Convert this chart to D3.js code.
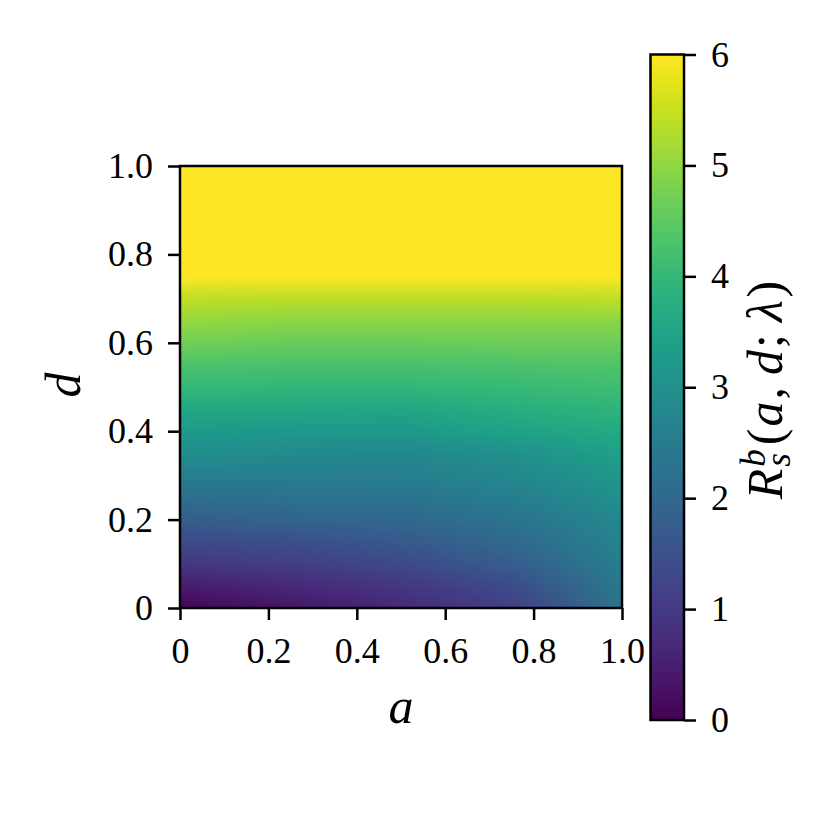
<!DOCTYPE html>
<html>
<head>
<meta charset="utf-8">
<script src="https://cdn.jsdelivr.net/npm/d3@7"></script>
<style>
  body { margin: 0; background: #fff; }
  svg { display: block; }
  text { font-family: "Liberation Serif", "DejaVu Serif", serif; fill: #000; }
</style>
</head>
<body>
<svg id="chart" width="830" height="830"></svg>
<script>
// grid of a (columns) and d (rows), values of R
var aGrid = [0, 0.25, 0.5, 0.75, 1];
var dGrid = [0, 0.05, 0.1, 0.15, 0.2, 0.25, 0.3, 0.35, 0.4, 0.45, 0.5,
             0.55, 0.6, 0.65, 0.7, 0.75, 0.8, 0.85, 0.9, 0.95, 1];
// one array per a column, listed bottom (d=0) to top (d=1)
var rA000 = [0.05, 0.45, 0.95, 1.35, 1.75, 2.15, 2.55, 2.95, 3.25, 3.6, 4.0, 4.3, 4.7, 5.05, 5.4, 6, 6, 6, 6, 6, 6];
var rA025 = [0.35, 0.7, 1.1, 1.45, 1.9, 2.25, 2.55, 2.85, 3.2, 3.6, 3.95, 4.25, 4.6, 4.95, 5.35, 6, 6, 6, 6, 6, 6];
var rA050 = [0.7, 0.95, 1.35, 1.65, 2.0, 2.3, 2.55, 2.8, 3.2, 3.55, 3.95, 4.25, 4.6, 4.95, 5.35, 6, 6, 6, 6, 6, 6];
var rA075 = [1.15, 1.4, 1.75, 2.05, 2.3, 2.55, 2.8, 3.0, 3.45, 3.75, 4.05, 4.3, 4.65, 4.95, 5.35, 6, 6, 6, 6, 6, 6];
var rA100 = [2.35, 2.45, 2.6, 2.7, 2.8, 3.0, 3.2, 3.4, 3.65, 3.9, 4.15, 4.35, 4.65, 4.95, 5.4, 6, 6, 6, 6, 6, 6];

var xTicks = [0, 0.2, 0.4, 0.6, 0.8, 1];
var xTickLabels = ["0", "0.2", "0.4", "0.6", "0.8", "1.0"];
var yTicks = [0, 0.2, 0.4, 0.6, 0.8, 1];
var yTickLabels = ["0", "0.2", "0.4", "0.6", "0.8", "1.0"];
var cbTicks = [0, 1, 2, 3, 4, 5, 6];

var columns = [rA000, rA025, rA050, rA075, rA100];
var FONT = '"Liberation Serif", "DejaVu Serif", serif';

var svg = d3.select("#chart");
var x = d3.scaleLinear().domain([0, 1]).range([180, 622]);
var y = d3.scaleLinear().domain([0, 1]).range([608, 166]);
var color = d3.scaleSequential(d3.interpolateViridis).domain([0, 6]).clamp(true);

// heatmap: one pixel per grid cell, smoothed when scaled up
var nA = aGrid.length, nD = dGrid.length;
var cnv = document.createElement("canvas");
cnv.width = nA; cnv.height = nD;
var ctx = cnv.getContext("2d");
var img = ctx.createImageData(nA, nD);
columns.forEach(function(col, i) {
  col.forEach(function(v, j) {
    var c = d3.rgb(color(v));
    var k = ((nD - 1 - j) * nA + i) * 4;
    img.data[k] = c.r; img.data[k + 1] = c.g; img.data[k + 2] = c.b; img.data[k + 3] = 255;
  });
});
ctx.putImageData(img, 0, 0);

var da = aGrid[1] - aGrid[0], dd = dGrid[1] - dGrid[0];
svg.append("clipPath").attr("id", "plotClip")
  .append("rect")
  .attr("x", x(0)).attr("y", y(1))
  .attr("width", x(1) - x(0)).attr("height", y(0) - y(1));

svg.append("g").attr("clip-path", "url(#plotClip)")
  .append("image")
  .attr("href", cnv.toDataURL())
  .attr("preserveAspectRatio", "none")
  .attr("x", x(aGrid[0] - da / 2))
  .attr("y", y(dGrid[nD - 1] + dd / 2))
  .attr("width", x(aGrid[nA - 1] + da / 2) - x(aGrid[0] - da / 2))
  .attr("height", y(dGrid[0] - dd / 2) - y(dGrid[nD - 1] + dd / 2));

// axes
var xAxis = svg.append("g").attr("transform", "translate(0,608)")
  .call(d3.axisBottom(x).tickValues(xTicks)
    .tickFormat(function(d, i) { return xTickLabels[i]; })
    .tickSize(12).tickPadding(17));
var yAxis = svg.append("g").attr("transform", "translate(180,0)")
  .call(d3.axisLeft(y).tickValues(yTicks)
    .tickFormat(function(d, i) { return yTickLabels[i]; })
    .tickSize(12).tickPadding(15));
[xAxis, yAxis].forEach(function(g) {
  g.select(".domain").remove();
  g.selectAll(".tick line").attr("stroke", "#000").attr("stroke-width", 2.5);
  g.selectAll(".tick text").attr("font-size", 36).style("font-family", FONT);
});

svg.append("rect")
  .attr("x", x(0)).attr("y", y(1))
  .attr("width", x(1) - x(0)).attr("height", y(0) - y(1))
  .attr("fill", "none").attr("stroke", "#000").attr("stroke-width", 2.5);

svg.append("text").attr("x", 401).attr("y", 723)
  .attr("text-anchor", "middle").attr("font-size", 50).attr("font-style", "italic")
  .text("a");
svg.append("text").attr("transform", "translate(80,385) rotate(-90)")
  .attr("text-anchor", "middle").attr("font-size", 50).attr("font-style", "italic")
  .text("d");

// colorbar
var cbX0 = 650.5, cbX1 = 684;
var cy = d3.scaleLinear().domain([0, 6]).range([720, 54.5]);
var grad = svg.append("defs").append("linearGradient").attr("id", "cbGrad")
  .attr("x1", 0).attr("y1", 1).attr("x2", 0).attr("y2", 0);
d3.range(0, 6.01, 0.25).forEach(function(v) {
  grad.append("stop").attr("offset", v / 6).attr("stop-color", color(v));
});
svg.append("rect")
  .attr("x", cbX0).attr("y", cy(6))
  .attr("width", cbX1 - cbX0).attr("height", cy(0) - cy(6))
  .attr("fill", "url(#cbGrad)").attr("stroke", "#000").attr("stroke-width", 2.5);
var cbAxis = svg.append("g").attr("transform", "translate(" + cbX1 + ",0)")
  .call(d3.axisRight(cy).tickValues(cbTicks).tickFormat(d3.format("d"))
    .tickSize(12).tickPadding(15));
cbAxis.select(".domain").remove();
cbAxis.selectAll(".tick line").attr("stroke", "#000").attr("stroke-width", 2.5);
cbAxis.selectAll(".tick text").attr("font-size", 36).style("font-family", FONT);

// colorbar label R_s^b(a, d; λ), rotated
var lab = svg.append("g").attr("transform", "translate(782,390) rotate(-90)");
var inner = lab.append("g");
var cursor = 0;
function piece(str, size, italic, dy) {
  var t = inner.append("text").attr("x", cursor).attr("y", dy || 0)
    .attr("font-size", size).attr("font-style", italic ? "italic" : "normal")
    .text(str);
  return t.node().getComputedTextLength();
}
cursor += piece("R", 50, true) + 2;
var wSup = piece("b", 35, true, -17);
var wSub = piece("s", 35, true, 8);
cursor += Math.max(wSup, wSub) + 4;
cursor += piece("(", 50, false) + 2;
cursor += piece("a", 50, true) + 2;
cursor += piece(",", 50, false) + 12;
cursor += piece("d", 50, true) + 2;
cursor += piece(";", 50, false) + 12;
cursor += piece("λ", 50, true) + 3;
cursor += piece(")", 50, false);
inner.attr("transform", "translate(" + (-cursor / 2) + ",0)");
</script>
</body>
</html>
